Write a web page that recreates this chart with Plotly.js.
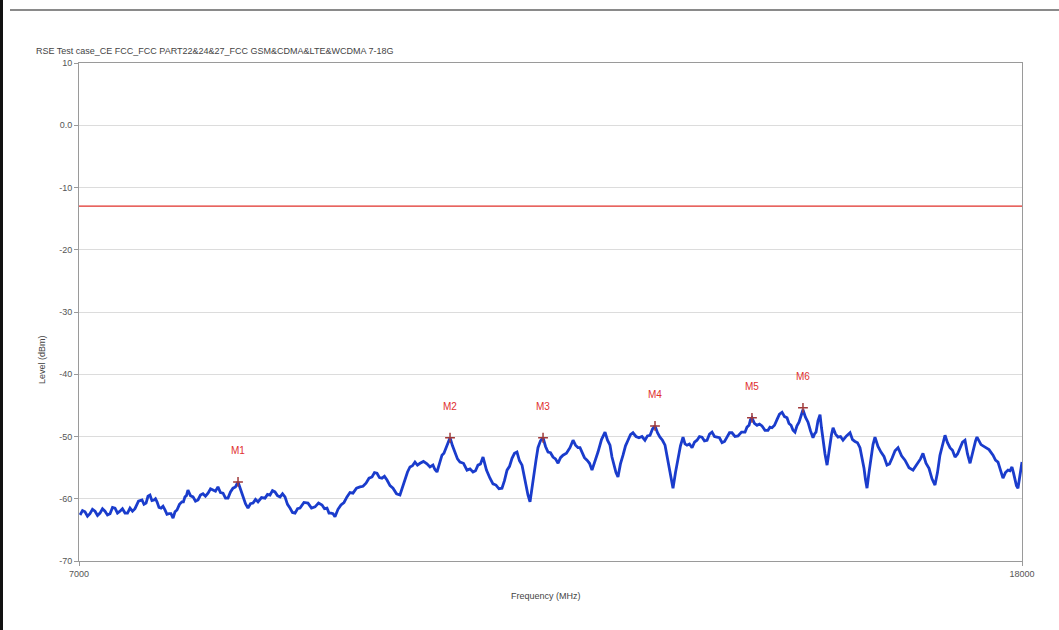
<!DOCTYPE html>
<html>
<head>
<meta charset="utf-8">
<script src="https://cdn.plot.ly/plotly-3.0.1.min.js"></script>
<style>
  html, body { margin: 0; padding: 0; background: #fff; }
  #chart { width: 1059px; height: 630px; }
  #lb { position: absolute; left: 0; top: 0; width: 3px; height: 630px; background: #111; }
  #tb { position: absolute; left: 10px; top: 9px; width: 1049px; height: 2px; background: #8a8a8a; }
</style>
</head>
<body>
<div id="chart"></div>
<div id="lb"></div>
<div id="tb"></div>
<script>
// Spectrum trace (MHz, dBm)
const freq = [7012,7041,7070,7099,7128,7157,7187,7216,7245,7274,7303,7332,7362,7391,7420,7449,7478,7507,7537,7566,7595,7624,7653,7694,7735,7758,7782,7805,7828,7851,7875,7892,7910,7933,7957,7980,8003,8026,8050,8073,8097,8120,8143,8172,8201,8218,8236,8253,8271,8300,8330,8359,8388,8417,8446,8475,8505,8534,8563,8592,8621,8650,8680,8709,8738,8767,8796,8825,8855,8884,8913,8942,8971,9000,9030,9059,9088,9129,9170,9199,9228,9257,9286,9315,9345,9374,9403,9432,9461,9490,9520,9549,9578,9624,9671,9712,9753,9794,9835,9864,9893,9916,9940,9963,9986,10021,10056,10091,10126,10161,10196,10237,10278,10313,10348,10383,10418,10447,10476,10505,10534,10563,10593,10628,10663,10704,10744,10773,10803,10832,10861,10890,10919,10948,10978,11018,11059,11094,11129,11152,11176,11205,11234,11257,11281,11304,11328,11357,11386,11415,11444,11485,11526,11561,11596,11625,11654,11683,11713,11753,11794,11829,11864,11899,11934,11963,11993,12022,12051,12080,12109,12138,12168,12191,12214,12237,12261,12284,12308,12331,12354,12383,12413,12442,12471,12500,12529,12558,12588,12617,12646,12686,12727,12745,12763,12792,12821,12844,12867,12896,12926,12955,12984,13019,13054,13095,13136,13165,13194,13217,13241,13264,13287,13316,13346,13375,13404,13433,13462,13497,13532,13567,13602,13631,13661,13690,13719,13748,13777,13806,13836,13859,13882,13905,13929,13958,13987,14016,14046,14069,14092,14121,14151,14180,14209,14238,14267,14296,14326,14355,14384,14413,14442,14471,14501,14530,14559,14588,14617,14652,14687,14728,14769,14792,14816,14833,14850,14879,14909,14938,14967,15002,15037,15060,15084,15113,15142,15171,15201,15230,15259,15282,15306,15329,15352,15375,15399,15422,15445,15474,15504,15533,15562,15580,15597,15620,15644,15661,15679,15702,15726,15743,15760,15778,15796,15825,15854,15883,15912,15953,15994,16023,16052,16081,16110,16133,16157,16174,16192,16215,16239,16262,16285,16320,16355,16390,16425,16454,16484,16519,16554,16595,16635,16682,16729,16758,16787,16816,16845,16880,16915,16950,16985,17014,17043,17072,17102,17131,17160,17189,17219,17248,17277,17306,17335,17364,17394,17417,17440,17458,17475,17522,17569,17615,17662,17691,17720,17749,17778,17807,17837,17860,17883,17900,17918,17935,17953,17977,18000];
const level = [-62.6,-61.9,-62.1,-62.8,-62.4,-61.7,-62.0,-62.7,-62.3,-61.6,-62.0,-62.6,-62.4,-61.4,-61.5,-62.3,-62.0,-61.6,-62.3,-62.3,-61.5,-62.0,-61.6,-60.4,-60.2,-60.9,-60.7,-59.6,-59.4,-60.3,-60.2,-60.0,-60.5,-61.4,-61.5,-61.2,-61.8,-62.5,-62.4,-62.4,-63.1,-62.1,-61.8,-60.9,-60.5,-60.5,-59.7,-59.5,-58.6,-59.5,-59.7,-60.4,-60.2,-59.4,-59.2,-59.6,-59.1,-58.4,-58.6,-58.8,-58.1,-59.0,-59.1,-59.9,-59.9,-58.9,-58.3,-58.1,-57.3,-58.5,-59.4,-60.8,-61.5,-60.8,-60.7,-60.1,-60.5,-59.8,-59.9,-59.3,-59.4,-58.7,-58.9,-59.5,-59.7,-59.2,-59.7,-60.9,-61.5,-62.2,-62.3,-61.6,-61.5,-60.6,-60.7,-61.5,-61.3,-60.7,-61.0,-61.6,-61.5,-62.3,-62.3,-62.4,-62.9,-61.7,-61.0,-60.6,-59.7,-59.0,-59.1,-58.3,-58.1,-58.0,-57.5,-56.7,-56.5,-55.8,-55.9,-56.6,-56.7,-56.4,-57.0,-57.9,-58.3,-59.2,-59.4,-58.1,-57.0,-55.7,-54.9,-54.7,-54.1,-54.6,-54.3,-54.0,-54.4,-54.9,-54.6,-55.3,-55.7,-54.2,-53.0,-52.7,-51.8,-50.9,-50.2,-51.5,-52.5,-53.6,-54.1,-54.3,-55.4,-55.2,-55.7,-55.5,-54.6,-54.4,-53.3,-55.4,-56.7,-57.6,-57.8,-58.4,-58.3,-57.1,-55.4,-54.8,-53.5,-52.7,-52.5,-53.9,-54.6,-56.4,-57.8,-59.4,-60.5,-58.0,-56.2,-53.8,-51.8,-50.7,-50.2,-51.6,-52.5,-52.6,-53.3,-53.6,-54.3,-53.4,-53.0,-52.7,-51.8,-51.1,-50.6,-51.4,-51.8,-51.8,-52.5,-53.4,-53.8,-54.3,-55.4,-54.1,-52.5,-50.5,-49.3,-50.6,-51.4,-53.3,-54.6,-55.8,-56.5,-54.4,-53.0,-51.5,-50.6,-49.7,-49.4,-50.0,-50.2,-50.0,-50.6,-49.9,-49.8,-48.8,-48.3,-49.4,-50.1,-50.6,-51.4,-53.1,-54.6,-56.6,-58.3,-55.8,-53.8,-51.5,-50.1,-51.2,-51.4,-51.2,-51.8,-50.9,-50.6,-50.0,-50.1,-50.7,-50.6,-49.6,-49.3,-50.0,-50.1,-50.2,-51.0,-50.8,-50.1,-49.4,-49.4,-50.0,-49.9,-49.3,-49.3,-48.5,-48.2,-47.3,-47.0,-47.9,-48.2,-48.0,-48.3,-49.0,-49.0,-48.5,-48.6,-48.2,-47.3,-46.4,-46.1,-46.8,-47.0,-47.9,-48.2,-49.0,-49.3,-48.3,-47.7,-46.5,-45.7,-46.9,-47.7,-49.1,-50.2,-49.6,-49.3,-47.5,-46.5,-48.6,-50.6,-52.8,-54.6,-52.8,-51.4,-49.7,-48.6,-49.6,-50.1,-50.0,-50.6,-49.9,-49.4,-50.5,-50.8,-51.0,-51.8,-53.4,-55.1,-56.9,-58.3,-55.8,-53.0,-51.3,-50.1,-51.6,-52.5,-53.2,-54.6,-54.4,-53.5,-52.3,-51.8,-53.1,-53.8,-55.0,-55.4,-54.8,-54.1,-53.6,-52.7,-54.3,-55.1,-56.8,-57.8,-55.8,-53.0,-51.2,-49.8,-51.0,-51.8,-52.2,-53.3,-52.8,-51.8,-50.9,-50.6,-52.8,-54.3,-52.9,-51.8,-50.7,-50.1,-51.3,-51.7,-52.1,-53.0,-53.8,-54.1,-55.6,-56.7,-55.8,-55.4,-55.5,-54.9,-55.8,-57.0,-57.9,-58.3,-56.0,-54.1];

// Limit line
const limitFreq = [7000, 18000];
const limitLevel = [-13, -13];

// Peak markers
const markerNames = ["M1","M2","M3","M4","M5","M6"];
const markerFreq = [8855, 11328, 12413, 13719, 14850, 15445];
const markerLevel = [-57.3, -50.2, -50.2, -48.3, -47.0, -45.4];

// Axis ticks
const yTickVals = [10, 0, -10, -20, -30, -40, -50, -60, -70];
const yTickText = ["10", "0.0", "-10", "-20", "-30", "-40", "-50", "-60", "-70"];
const xTickVals = [7000, 18000];
const xTickText = ["7000", "18000"];

const titleText = "RSE Test case_CE FCC_FCC PART22&24&27_FCC GSM&CDMA&LTE&WCDMA 7-18G";
const xTitle = "Frequency (MHz)";
const yTitle = "Level (dBm)";

const fontFam = "Liberation Sans, DejaVu Sans, sans-serif";

const traces = [
  {
    x: limitFreq, y: limitLevel, type: "scatter", mode: "lines",
    line: {color: "#e0302a", width: 1.2}, hoverinfo: "skip"
  },
  {
    x: freq, y: level, type: "scatter", mode: "lines",
    line: {color: "#1a3ccc", width: 2.8}, hoverinfo: "x+y"
  },
  {
    x: markerFreq, y: markerLevel, type: "scatter", mode: "markers",
    marker: {symbol: "cross-thin-open", size: 7, color: "#a03a3a", line: {color: "#a03a3a", width: 1.5}},
    hoverinfo: "skip"
  }
];

const annotations = markerNames.map((n, i) => ({
  x: markerFreq[i], y: markerLevel[i], xref: "x", yref: "y",
  text: n, showarrow: false, yshift: 31,
  font: {family: fontFam, size: 10, color: "#e03030"}
}));
annotations.push({
  xref: "paper", yref: "paper", x: -0.039, y: 0.404, xanchor: "center", yanchor: "middle",
  text: yTitle, textangle: -90, showarrow: false,
  font: {family: fontFam, size: 9, color: "#444"}
});
annotations.push({
  xref: "paper", yref: "paper", x: 0.495, y: -0.07, xanchor: "center", yanchor: "middle",
  text: xTitle, showarrow: false,
  font: {family: fontFam, size: 9, color: "#444"}
});

const layout = {
  width: 1059, height: 630,
  margin: {l: 79, r: 37, t: 63, b: 69},
  paper_bgcolor: "#fff", plot_bgcolor: "#fff",
  showlegend: false,
  title: {
    text: titleText, x: 0, xref: "paper", xanchor: "left", y: 0.925, yref: "container",
    pad: {l: -43},
    font: {family: fontFam, size: 9, color: "#444"}
  },
  xaxis: {
    range: [7000, 18000], tickvals: xTickVals, ticktext: xTickText,
    showgrid: false, zeroline: false,
    showline: true, linecolor: "#9a9a9a", linewidth: 1, mirror: true,
    ticks: "outside", ticklen: 4, tickcolor: "#9a9a9a",
    tickfont: {family: fontFam, size: 9, color: "#555"}
  },
  yaxis: {
    range: [-70, 10], tickvals: yTickVals, ticktext: yTickText,
    showgrid: true, gridcolor: "#dcdcdc", gridwidth: 1, zeroline: false,
    showline: true, linecolor: "#9a9a9a", linewidth: 1, mirror: true,
    ticks: "outside", ticklen: 4, tickcolor: "#9a9a9a",
    tickfont: {family: fontFam, size: 9, color: "#555"}
  },
  annotations: annotations
};

Plotly.newPlot("chart", traces, layout, {displayModeBar: false, staticPlot: true});
</script>
</body>
</html>
